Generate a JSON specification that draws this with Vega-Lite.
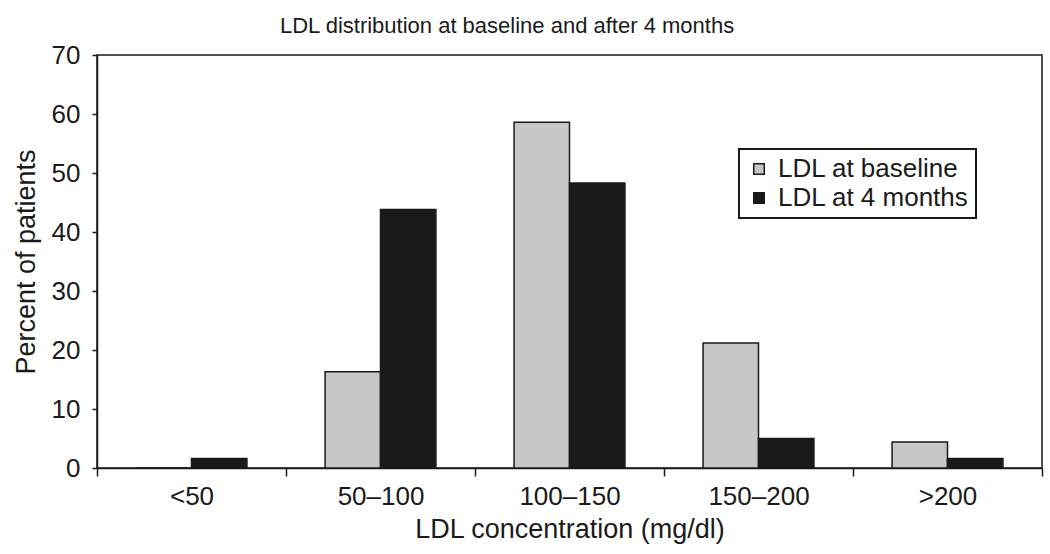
{
  "$schema": "https://vega.github.io/schema/vega-lite/v6.json",
  "autosize": "none",
  "width": 945,
  "height": 413,
  "padding": {"left": 97, "top": 55, "right": 8, "bottom": 86},
  "background": "white",
  "title": {
    "text": "LDL distribution at baseline and after 4 months",
    "anchor": "start",
    "frame": "group",
    "dx": 183,
    "offset": 24,
    "dy": 37,
    "baseline": "alphabetic",
    "font": "Liberation Sans",
    "fontSize": 22,
    "fontWeight": "normal",
    "color": "#1a1a1a"
  },
  "config": {
    "view": {"stroke": "#1a1a1a", "strokeWidth": 1.5},
    "font": "Liberation Sans",
    "legend": {"strokeWidth": 2}
  },
  "data": {
    "values": [
      {"range": "<50", "series": "LDL at baseline", "percent": 0},
      {"range": "<50", "series": "LDL at 4 months", "percent": 1.6},
      {"range": "50–100", "series": "LDL at baseline", "percent": 16.3},
      {"range": "50–100", "series": "LDL at 4 months", "percent": 43.8},
      {"range": "100–150", "series": "LDL at baseline", "percent": 58.6},
      {"range": "100–150", "series": "LDL at 4 months", "percent": 48.3},
      {"range": "150–200", "series": "LDL at baseline", "percent": 21.2},
      {"range": "150–200", "series": "LDL at 4 months", "percent": 5.0},
      {"range": ">200", "series": "LDL at baseline", "percent": 4.4},
      {"range": ">200", "series": "LDL at 4 months", "percent": 1.6}
    ]
  },
  "mark": {"type": "bar", "stroke": "#1a1a1a", "strokeWidth": 1.5},
  "encoding": {
    "x": {
      "field": "range",
      "type": "nominal",
      "sort": ["<50", "50–100", "100–150", "150–200", ">200"],
      "scale": {"paddingInner": 0, "paddingOuter": 0},
      "axis": {
        "title": "LDL concentration (mg/dl)",
        "labelAngle": 0,
        "tickBand": "extent",
        "tickSize": 8,
        "tickWidth": 1.5,
        "tickColor": "#1a1a1a",
        "domainColor": "#1a1a1a",
        "domainWidth": 1.5,
        "labelFontSize": 26,
        "labelColor": "#1a1a1a",
        "labelPadding": 7,
        "titleFontSize": 27,
        "titleFontWeight": "normal",
        "titleColor": "#1a1a1a",
        "titlePadding": 7
      }
    },
    "xOffset": {
      "field": "series",
      "type": "nominal",
      "sort": ["LDL at baseline", "LDL at 4 months"],
      "scale": {"paddingInner": 0, "paddingOuter": 0.705}
    },
    "y": {
      "field": "percent",
      "type": "quantitative",
      "scale": {"domain": [0, 70], "nice": false},
      "axis": {
        "title": "Percent of patients",
        "values": [0, 10, 20, 30, 40, 50, 60, 70],
        "grid": false,
        "tickSize": 5,
        "tickWidth": 1.5,
        "tickColor": "#1a1a1a",
        "domainColor": "#1a1a1a",
        "domainWidth": 1.5,
        "labelFontSize": 26,
        "labelColor": "#1a1a1a",
        "labelPadding": 12,
        "titleFontSize": 27,
        "titleFontWeight": "normal",
        "titleColor": "#1a1a1a",
        "titlePadding": 11
      }
    },
    "color": {
      "field": "series",
      "type": "nominal",
      "sort": ["LDL at baseline", "LDL at 4 months"],
      "scale": {"domain": ["LDL at baseline", "LDL at 4 months"], "range": ["#c6c6c6", "#1a1a1a"]},
      "legend": {
        "title": null,
        "orient": "none",
        "legendX": 642,
        "legendY": 94,
        "symbolType": "square",
        "symbolSize": 110,
        "symbolStrokeColor": "#1a1a1a",
        "symbolStrokeWidth": 1.5,
        "symbolOpacity": 1,
        "labelFontSize": 26,
        "labelColor": "#1a1a1a",
        "labelOffset": 6,
        "labelLimit": 400,
        "rowPadding": 3,
        "padding": 7,
        "strokeColor": "#1a1a1a",
        "fillColor": "white"
      }
    }
  }
}
